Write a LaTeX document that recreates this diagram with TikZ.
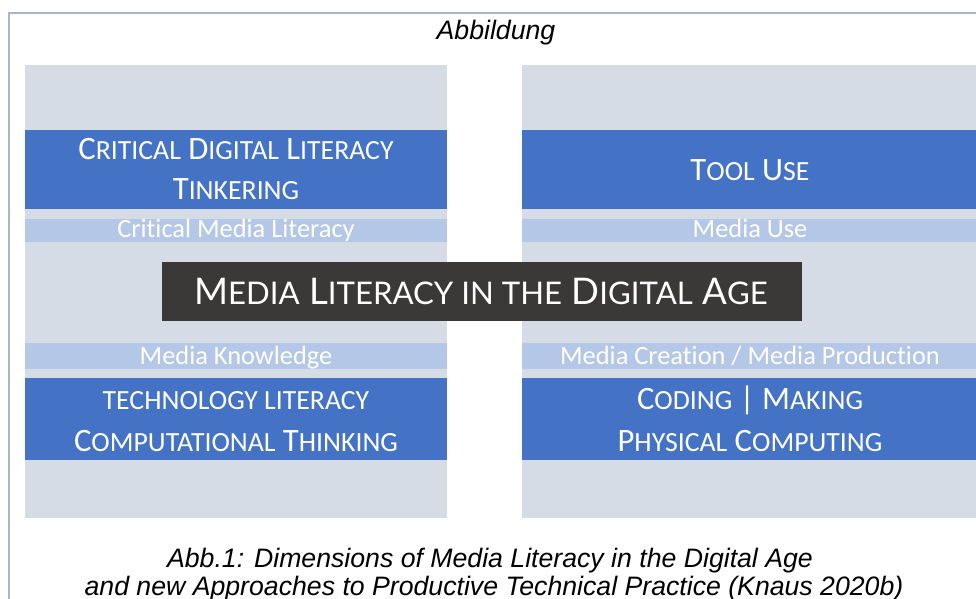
\documentclass[tikz,border=0pt]{standalone}
\usepackage{fontspec}
\setmainfont{Liberation Sans}
\newfontfamily\calibri[Ligatures=CommonOff]{Carlito}
\newfontfamily\titlefont{Lato}
\usetikzlibrary{calc}
\definecolor{panelgray}{HTML}{D6DCE5}
\definecolor{bandblue}{HTML}{4472C4}
\definecolor{stripblue}{HTML}{B4C7E7}
\definecolor{boxdark}{HTML}{3B3838}
\definecolor{framegray}{HTML}{A9B5CA}
\makeatletter
\newcommand{\Sc}[1]{{\fontsize{\fpeval{0.85*\f@size}}{\fpeval{0.85*\f@size}}\selectfont #1}}
\makeatother
\tikzset{Panel/.style={fill=panelgray},
    Band/.style={fill=bandblue},
    Strip/.style={fill=stripblue},
}

\begin{document}
\begin{tikzpicture}[x=0.75pt, y=-0.75pt,
    bandtext/.style={text=white, inner sep=0pt, anchor=base,
    font=\calibri\fontsize{24.5}{30}\selectfont},
    striptext/.style={text=white, inner sep=0pt, anchor=base,
    font=\calibri\fontsize{19.8}{22}\selectfont},
    capttext/.style={inner sep=0pt, anchor=base,
    font=\itshape\fontsize{20}{24}\selectfont},
]
\useasboundingbox (0,0) rectangle (976,599);
\draw[framegray, line width=1.5pt] (976,13) -- (9,13) -- (9,599);
\node [capttext] (abb) at (496,40) {Abbildung};
% left column
\fill [Panel] (25,65) rectangle (447,518);
\fill [Band] (25,130) rectangle (447,209);
\fill [Strip] (25,219) rectangle (447,242);
\fill [Strip] (25,343) rectangle (447,369);
\fill [Band] (25,378) rectangle (447,460);
% right column
\fill [Panel] (522,65) rectangle (976,518);
\fill [Band] (522,130) rectangle (976,209);
\fill [Strip] (522,219) rectangle (976,242);
\fill [Strip] (522,343) rectangle (976,369);
\fill [Band] (522,378) rectangle (976,460);
\node [bandtext] (cdl) at (236,160) {C\Sc{RITICAL} D\Sc{IGITAL} L\Sc{ITERACY}};
\node [bandtext] (tink) at (236,200) {T\Sc{INKERING}};
\node [striptext] (cml) at (236,238) {Critical Media Literacy};
\node [striptext] (mknow) at (236,364) {Media Knowledge};
\node [bandtext] (techlit) at (236,410) {\Sc{TECHNOLOGY LITERACY}};
\node [bandtext] (compthink) at (236,451) {C\Sc{OMPUTATIONAL} T\Sc{HINKING}};
\node [bandtext] (tool) at (750,181) {T\Sc{OOL} U\Sc{SE}};
\node [striptext] (muse) at (750,238) {Media Use};
\node [striptext] (mcreate) at (750,364) {Media Creation / Media Production};
\node [bandtext] (coding) at (750,409) {C\Sc{ODING} | M\Sc{AKING}};
\node [bandtext] (physcomp) at (750,451) {P\Sc{HYSICAL} C\Sc{OMPUTING}};
% title box
\fill [boxdark] (162,262) rectangle (802,321);
\node [text=white, inner sep=0pt, anchor=base,
    font=\titlefont\fontsize{27.5}{32}\selectfont] (title) at (481,305)
    {M\Sc{EDIA} L\Sc{ITERACY IN THE} D\Sc{IGITAL} A\Sc{GE}};
\node [capttext] (capA) at (490,567) {Abb.1: Dimensions of Media Literacy in the Digital Age};
\node [capttext] (capB) at (494,595) {and new Approaches to Productive Technical Practice (Knaus 2020b)};
\end{tikzpicture}
\end{document}
